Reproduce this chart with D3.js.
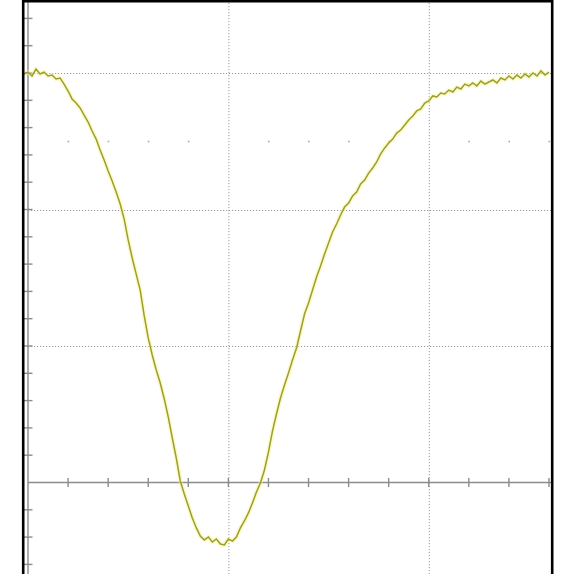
<!DOCTYPE html>
<html>
<head>
<meta charset="utf-8">
<script src="https://cdn.jsdelivr.net/npm/d3@7/dist/d3.min.js"></script>
<style>
  html, body { margin: 0; padding: 0; background: #fff; }
  svg { display: block; }
</style>
</head>
<body>
<svg id="scope" width="564" height="574"></svg>
<script>
// Graticule: time in minor divisions (5 per major), amplitude in major divisions
const xMinorTicks = [1, 2, 3, 4, 5, 6, 7, 8, 9, 10, 11, 12, 13];
const xMajorGrid = [5, 10];
const yMinorTicks = [-0.6, -0.4, -0.2, 0.2, 0.4, 0.6, 0.8, 1, 1.2, 1.4, 1.6, 1.8, 2,
                     2.2, 2.4, 2.6, 2.8, 3, 3.2, 3.4];
const yMajorGrid = [1, 2, 3];
const dotRowLevel = 2.5;
const dotRowTicks = [1, 2, 3, 4, 6, 7, 8, 9, 11, 12, 13];

// Captured trace: first sample time and sample interval (minor divisions)
const sampleStart = -0.1;
const sampleStep = 0.1;
// Trace amplitude, one value per sample (major divisions)
const traceValues = [
  2.993, 3.007, 2.978, 3.029, 2.993, 3.007, 2.978, 2.985, 2.956, 2.963,
  2.919, 2.868, 2.810, 2.780, 2.744, 2.692, 2.641, 2.575, 2.516, 2.436,
  2.363, 2.282, 2.209, 2.128, 2.040, 1.930, 1.777, 1.645, 1.527, 1.410,
  1.220, 1.059, 0.934, 0.824, 0.729, 0.612, 0.480, 0.326, 0.179, 0.011,
  -0.084, -0.172, -0.260, -0.333, -0.392, -0.421, -0.399, -0.436, -0.414, -0.451,
  -0.458, -0.414, -0.429, -0.399, -0.333, -0.282, -0.223, -0.150, -0.070, -0.004,
  0.092, 0.223, 0.377, 0.502, 0.619, 0.714, 0.802, 0.897, 0.985, 1.110,
  1.234, 1.315, 1.410, 1.505, 1.586, 1.674, 1.755, 1.835, 1.894, 1.960,
  2.018, 2.048, 2.099, 2.128, 2.187, 2.216, 2.267, 2.304, 2.348, 2.407,
  2.451, 2.487, 2.516, 2.560, 2.582, 2.619, 2.656, 2.685, 2.722, 2.736,
  2.780, 2.795, 2.832, 2.824, 2.853, 2.846, 2.875, 2.861, 2.897, 2.883,
  2.919, 2.905, 2.927, 2.905, 2.941, 2.919, 2.934, 2.949, 2.927, 2.963,
  2.949, 2.978, 2.956, 2.985, 2.963, 2.993, 2.971, 3.000, 2.978, 3.015,
  2.985, 3.007
];

const W = 564, H = 574;
const svg = d3.select("#scope");

const x = d3.scaleLinear().domain([0, 13]).range([28, 549]);
const y = d3.scaleLinear().domain([0, 3]).range([482.5, 73]);

const frameLeft = 23.2, frameRight = 552.2, frameTop = 1.2;
const gridColor = "#9a9a9a";
const axisColor = "#8c8c8c";

// Dotted major gridlines
const grid = svg.append("g").attr("stroke", gridColor).attr("stroke-width", 1)
  .attr("stroke-dasharray", "1.2,1.8").attr("fill", "none");
grid.selectAll("line.v").data(xMajorGrid).join("line").attr("class", "v")
  .attr("x1", d => x(d) + 0.5).attr("x2", d => x(d) + 0.5)
  .attr("y1", 0).attr("y2", H);
grid.selectAll("line.h").data(yMajorGrid).join("line").attr("class", "h")
  .attr("x1", x(0)).attr("x2", frameRight)
  .attr("y1", d => Math.round(y(d)) + 0.5).attr("y2", d => Math.round(y(d)) + 0.5);

// Row of half-division dots
svg.append("g").attr("fill", "#a8a8a8")
  .selectAll("rect").data(dotRowTicks).join("rect")
  .attr("x", d => x(d) - 0.5).attr("y", y(dotRowLevel) - 0.5)
  .attr("width", 1.6).attr("height", 1.6);

// Centre time axis with minor ticks on both sides
const xAxis = svg.append("g").attr("stroke", axisColor).attr("stroke-width", 1.4);
xAxis.append("line")
  .attr("x1", x(0)).attr("x2", frameRight)
  .attr("y1", y(0)).attr("y2", y(0));
xAxis.selectAll("line.t").data(xMinorTicks).join("line").attr("class", "t")
  .attr("x1", d => x(d)).attr("x2", d => x(d))
  .attr("y1", y(0) - 4.5).attr("y2", y(0) + 4.5);

// Left amplitude axis with minor ticks
const yAxis = svg.append("g").attr("stroke", axisColor).attr("stroke-width", 1.4);
yAxis.append("line")
  .attr("x1", x(0)).attr("x2", x(0)).attr("y1", 0).attr("y2", H);
yAxis.selectAll("line.t").data(yMinorTicks).join("line").attr("class", "t")
  .attr("x1", x(0) - 4).attr("x2", x(0) + 4.5)
  .attr("y1", d => y(d)).attr("y2", d => y(d));

// Trace: faint phosphor glow under an olive core
const samples = traceValues.map((v, i) => ({ t: sampleStart + i * sampleStep, v }));
const line = d3.line().x(d => x(d.t)).y(d => y(d.v));
svg.append("path").datum(samples)
  .attr("d", line).attr("fill", "none")
  .attr("stroke", "#f4f48c").attr("stroke-opacity", 0.45)
  .attr("stroke-width", 4.5).attr("stroke-linejoin", "round");
svg.append("path").datum(samples)
  .attr("d", line).attr("fill", "none")
  .attr("stroke", "#9e9e2e").attr("stroke-width", 1.5)
  .attr("stroke-linejoin", "miter");

// Black screen frame (open at the bottom edge of the view)
svg.append("path")
  .attr("d", `M${frameLeft},${H + 5}V${frameTop}H${frameRight}V${H + 5}`)
  .attr("fill", "none").attr("stroke", "#000").attr("stroke-width", 2.6);
</script>
</body>
</html>
